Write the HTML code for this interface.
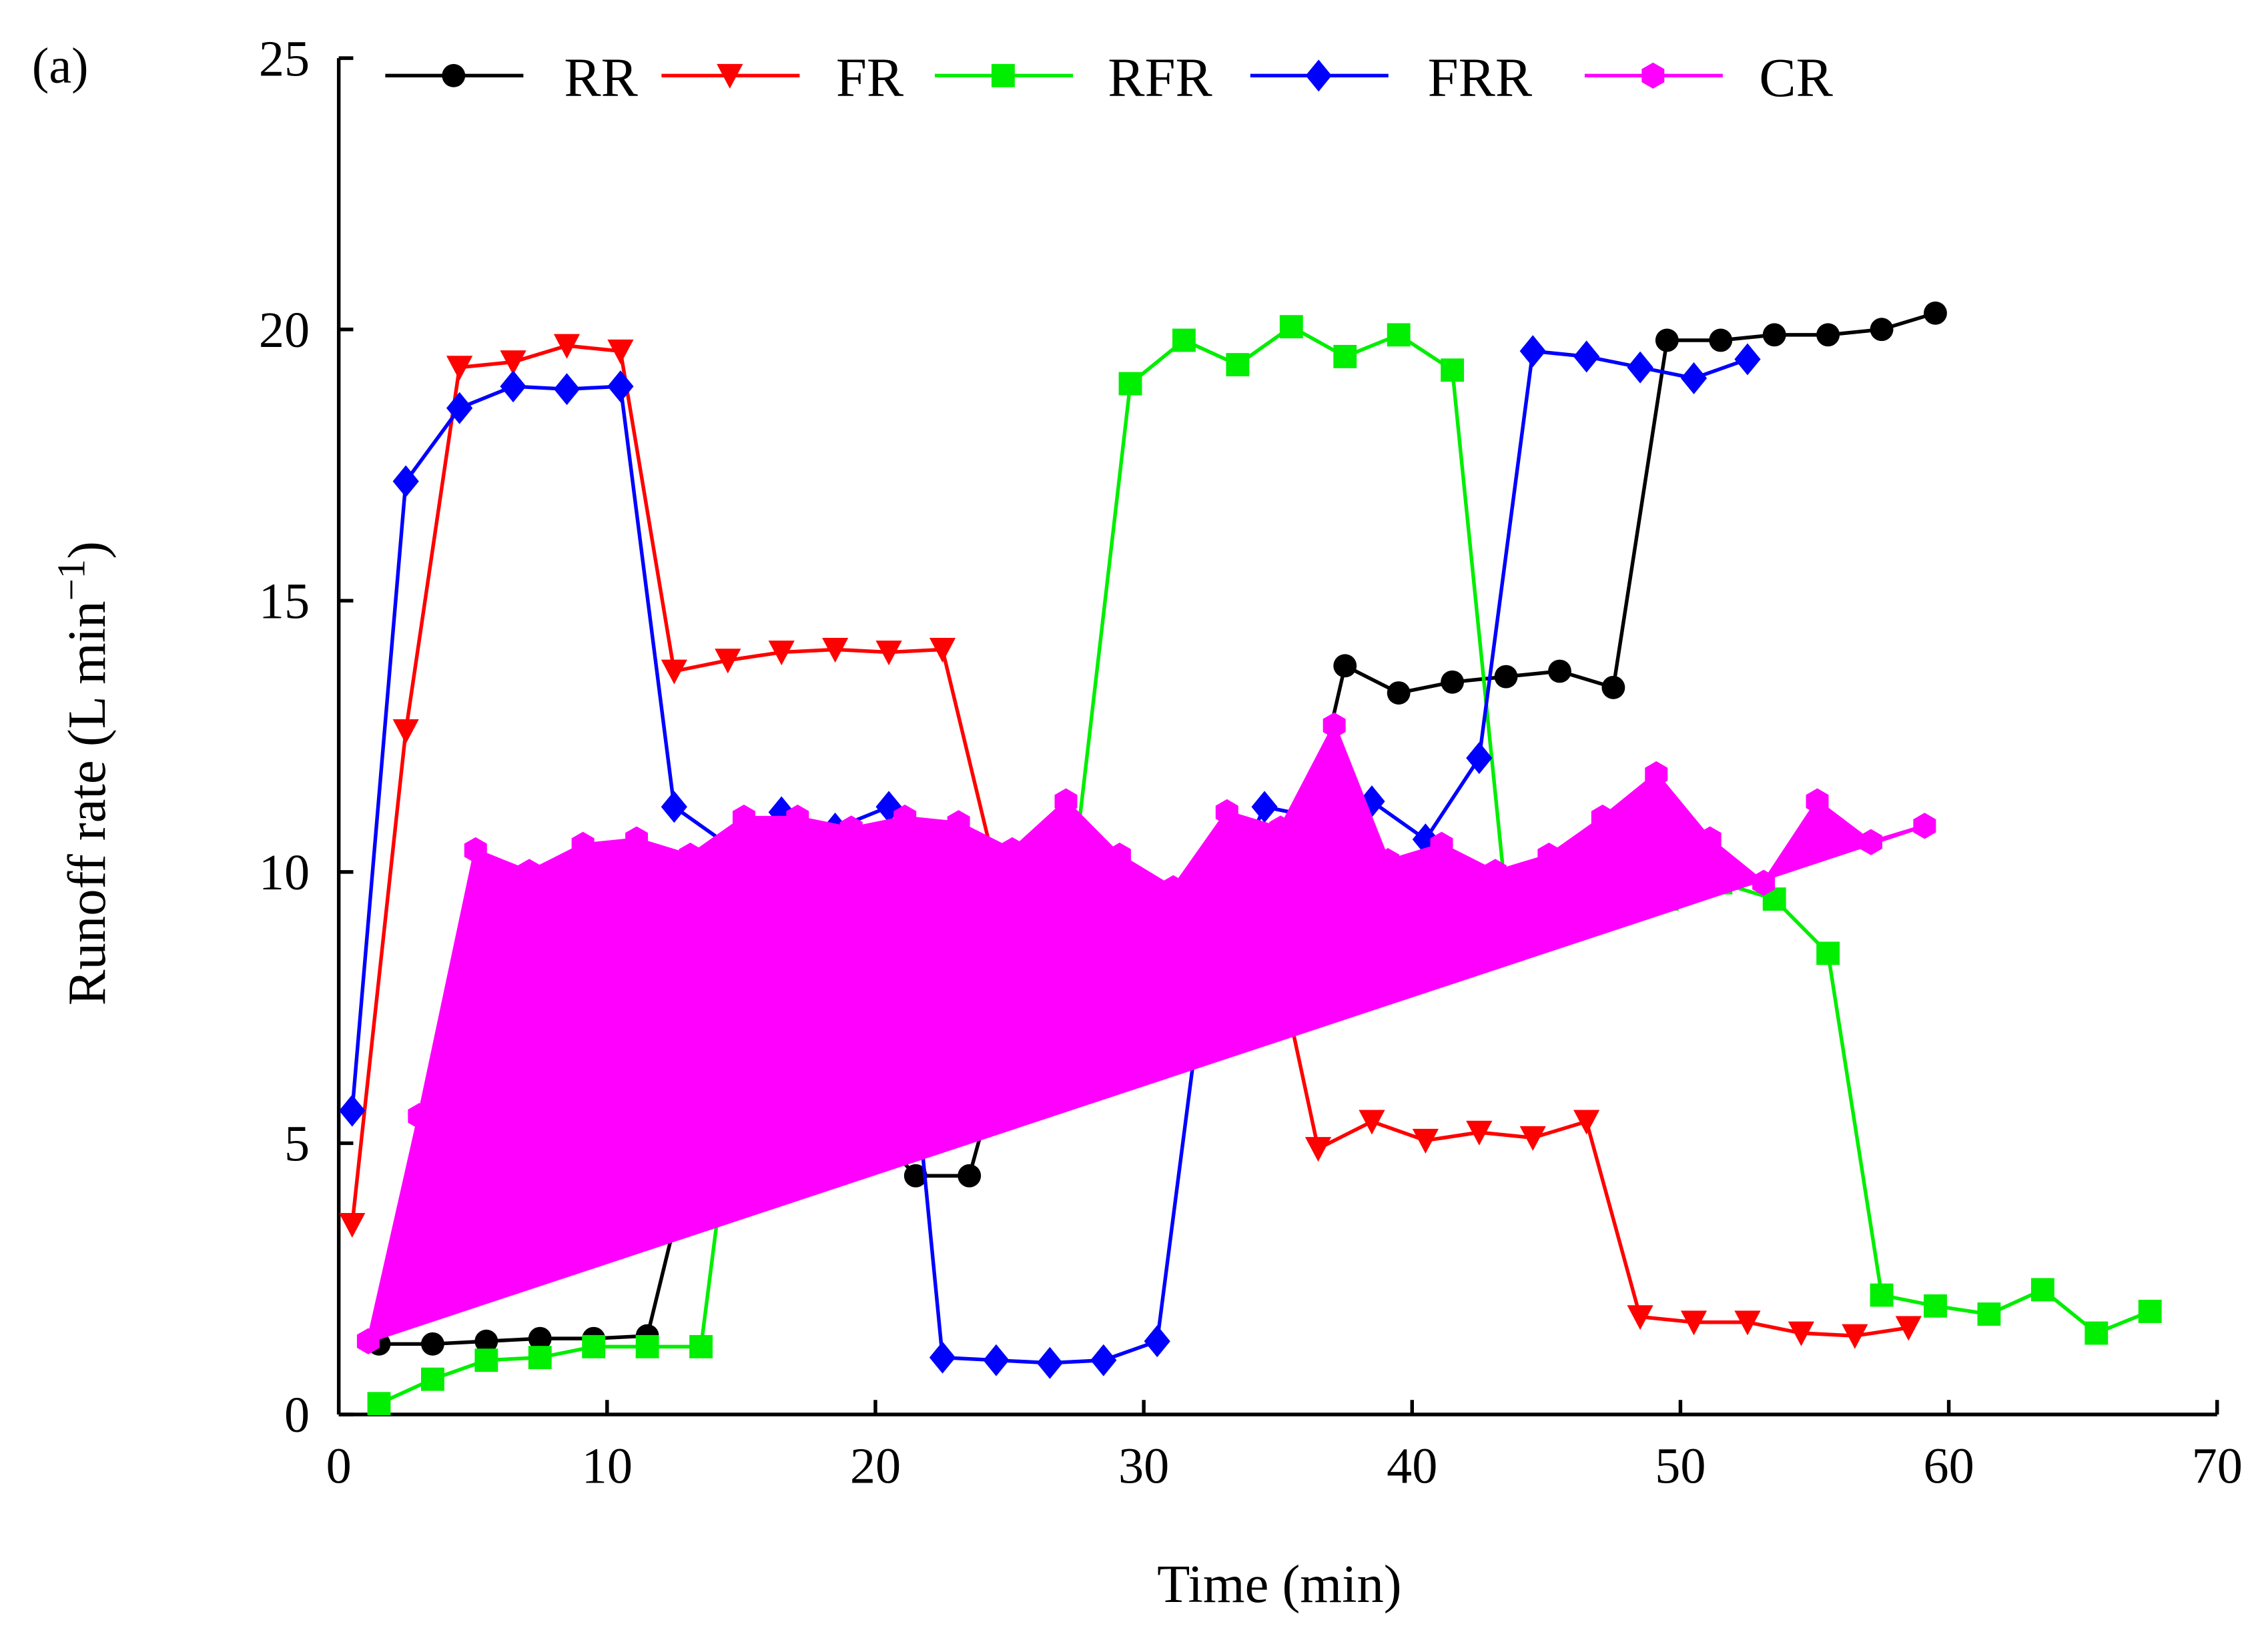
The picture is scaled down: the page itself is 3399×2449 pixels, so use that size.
<!DOCTYPE html>
<html><head><meta charset="utf-8"><style>
html,body{margin:0;padding:0;background:#fff;}
svg{display:block;}
text{font-family:"Liberation Serif",serif;fill:#000;}
</style></head><body>
<svg id="chart" width="3399" height="2449" viewBox="0 0 1560 1124" preserveAspectRatio="none" xmlns="http://www.w3.org/2000/svg">
<rect width="1560" height="1124" fill="#fff"/>
<g id="axes"></g>
<g id="series"></g>
<g id="legend"></g>
</svg>
<script>
const xTicks=[0,10,20,30,40,50,60,70];
const yTicks=[0,5,10,15,20,25];
const rrX=[1.5,3.5,5.5,7.5,9.5,11.5,13.5,15.5,17.5,19.5,21.5,23.5,25.5,27.5,29.5,31.5,33.5,35.5,37.5,39.5,41.5,43.5,45.5,47.5,49.5,51.5,53.5,55.5,57.5,59.5];
const rrY=[1.3,1.3,1.35,1.4,1.4,1.45,5.5,6,6,5.5,4.4,4.4,8,8.5,8.5,9,9,9.5,13.8,13.3,13.5,13.6,13.7,13.4,19.8,19.8,19.9,19.9,20,20.3];
const frX=[0.5,2.5,4.5,6.5,8.5,10.5,12.5,14.5,16.5,18.5,20.5,22.5,24.5,26.5,28.5,30.5,32.5,34.5,36.5,38.5,40.5,42.5,44.5,46.5,48.5,50.5,52.5,54.5,56.5,58.5];
const frY=[3.5,12.6,19.3,19.4,19.7,19.6,13.7,13.9,14.05,14.1,14.05,14.1,10,9.5,9.5,9.5,9.5,9.5,4.9,5.4,5.05,5.2,5.1,5.4,1.8,1.7,1.7,1.5,1.45,1.6];
const rfrX=[1.5,3.5,5.5,7.5,9.5,11.5,13.5,15.5,17.5,19.5,21.5,23.5,25.5,27.5,29.5,31.5,33.5,35.5,37.5,39.5,41.5,43.5,45.5,47.5,49.5,51.5,53.5,55.5,57.5,59.5,61.5,63.5,65.5,67.5];
const rfrY=[0.2,0.65,1,1.05,1.25,1.25,1.25,9,9.5,9.5,9.5,9.5,9.5,10.5,19,19.8,19.35,20.05,19.5,19.9,19.25,9.5,9.5,9.5,9.5,9.8,9.5,8.5,2.2,2,1.85,2.3,1.5,1.9];
const frrX=[0.5,2.5,4.5,6.5,8.5,10.5,12.5,14.5,16.5,18.5,20.5,22.5,24.5,26.5,28.5,30.5,32.5,34.5,36.5,38.5,40.5,42.5,44.5,46.5,48.5,50.5,52.5];
const frrY=[5.6,17.2,18.55,18.95,18.9,18.95,11.2,10.5,11.1,10.8,11.2,1.05,1,0.95,1,1.35,9,11.2,11,11.3,10.6,12.1,19.6,19.5,19.3,19.1,19.45];
const crX=[1.1,3.0,5.1,7.1,9.1,11.1,13.1,15.1,17.1,19.1,21.1,23.1,25.1,27.1,29.1,31.1,33.1,35.1,37.1,39.1,41.1,43.1,45.1,47.1,49.1,51.1,53.1,55.1,57.1,59.1];
const crY=[1.35,5.5,10.4,10,10.5,10.6,10.3,11,11,10.8,11,10.9,10.4,11.3,10.3,9.7,11.1,10.8,12.7,10.2,10.5,10,10.3,11,11.8,10.6,9.8,11.3,10.55,10.85];

const NS="http://www.w3.org/2000/svg";
const X0=233,X1=1525,Y0=973,Y1=40;
const sx=v=>X0+(v-0)/70*(X1-X0);
const sy=v=>Y0-(v-0)/25*(Y0-Y1);
function mk(tag,attrs,parent){const e=document.createElementNS(NS,tag);for(const k in attrs)e.setAttribute(k,attrs[k]);parent.appendChild(e);return e;}
const axes=document.getElementById('axes'),series=document.getElementById('series'),legend=document.getElementById('legend');

let a=mk('line',{x1:X0,y1:Y0,x2:X0,y2:Y1,stroke:'#000','stroke-width':2.5},axes);

a=mk('line',{x1:X0,y1:Y0,x2:X1,y2:Y0,stroke:'#000','stroke-width':2.5},axes);

xTicks.forEach(v=>{
  const t=mk('line',{x1:sx(v),y1:Y0,x2:sx(v),y2:Y0-10,stroke:'#000','stroke-width':2.5},axes);
  
  const l=mk('text',{x:sx(v),y:Y0+47,'text-anchor':'middle','font-size':35},axes);l.textContent=v;
  
});
yTicks.forEach(v=>{
  const t=mk('line',{x1:X0,y1:sy(v),x2:X0+10,y2:sy(v),stroke:'#000','stroke-width':2.5},axes);
  
  const l=mk('text',{x:X0-20,y:sy(v)+12,'text-anchor':'end','font-size':35},axes);l.textContent=v;
  
});
let xt=mk('text',{x:880,y:1102,'text-anchor':'middle','font-size':37},axes);xt.textContent='Time (min)';

let yt=mk('text',{x:0,y:0,'text-anchor':'middle','font-size':37,transform:'translate(72,532) rotate(-90)'},axes);
yt.innerHTML='Runoff rate (L min<tspan dy="-14" font-size="27">−1</tspan><tspan dy="14">)</tspan>';

let pl=mk('text',{x:22,y:57,'font-size':35},axes);pl.textContent='(a)';


function marker(type,cx,cy,color,parent){
  let e;
  if(type==='circle')e=mk('circle',{cx:cx,cy:cy,r:8,fill:color},parent);
  else if(type==='tri')e=mk('polygon',{points:`${cx-9},${cy-8} ${cx+9},${cy-8} ${cx},${cy+9}`,fill:color},parent);
  else if(type==='square')e=mk('rect',{x:cx-8,y:cy-8,width:16,height:16,fill:color},parent);
  else if(type==='diamond')e=mk('polygon',{points:`${cx},${cy-11} ${cx+9},${cy} ${cx},${cy+11} ${cx-9},${cy}`,fill:color},parent);
  else {let p=[];for(let i=0;i<6;i++){const an=Math.PI/6+i*Math.PI/3;p.push((cx+9*Math.cos(an))+','+(cy+9*Math.sin(an)));}e=mk('polygon',{points:p.join(' '),fill:color},parent);}
  return e;
}
const defs=[
 {name:'rr',label:'RR',xs:rrX,ys:rrY,color:'#000',m:'circle'},
 {name:'fr',label:'FR',xs:frX,ys:frY,color:'#ff0000',m:'tri'},
 {name:'rfr',label:'RFR',xs:rfrX,ys:rfrY,color:'#00ee00',m:'square'},
 {name:'frr',label:'FRR',xs:frrX,ys:frrY,color:'#0000ff',m:'diamond'},
 {name:'cr',label:'CR',xs:crX,ys:crY,color:'#ff00ff',m:'hex'}
];
defs.forEach(d=>{
  const g=mk('g',{},series);
  
  const pts=d.xs.map((x,i)=>sx(x)+','+sy(d.ys[i])).join(' ');
  let ln;
  if(d.name==='cr') ln=mk('polygon',{points:pts,fill:d.color,stroke:d.color,'stroke-width':2.5},g);
  else ln=mk('polyline',{points:pts,fill:'none',stroke:d.color,'stroke-width':2.5},g);
  
  d.xs.forEach((x,i)=>{
    const p=marker(d.m,sx(x),sy(d.ys[i]),d.color,g);
    
  });
});
const legX=[265,455,643,860,1090],legT=[388,575,762,982,1210];
defs.forEach((d,i)=>{
  const g=mk('g',{},legend);
  
  mk('line',{x1:legX[i],y1:52,x2:legX[i]+95,y2:52,stroke:d.color,'stroke-width':2.5},g);
  marker(d.m,legX[i]+47,52,d.color,g);
  const t=mk('text',{x:legT[i],y:66,'font-size':38},g);t.textContent=d.label;
});
</script>
</body></html>
